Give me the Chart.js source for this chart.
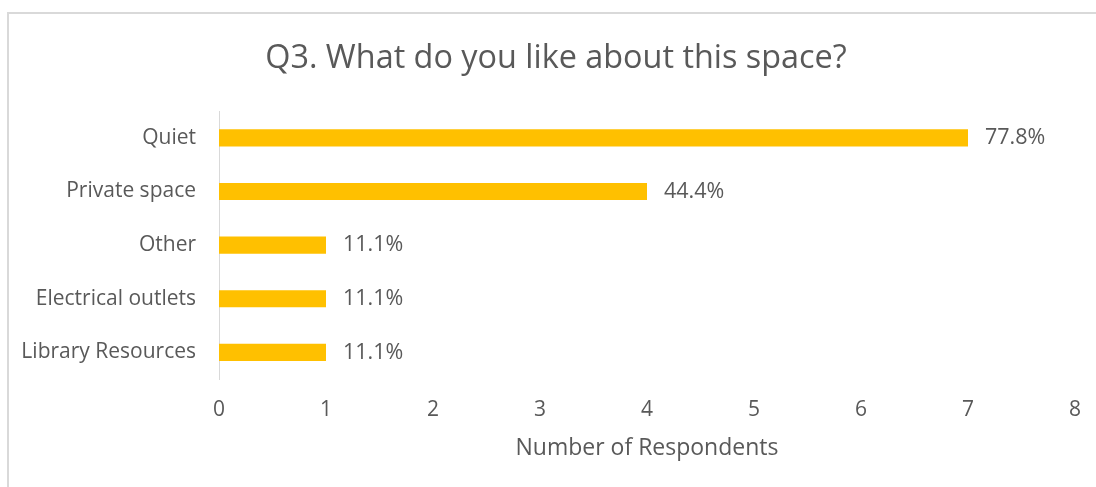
<!DOCTYPE html>
<html>
<head>
<meta charset="utf-8">
<title>Q3</title>
<script src="https://cdn.jsdelivr.net/npm/chart.js@4.4.1/dist/chart.umd.min.js"></script>
<style>
  html, body { margin: 0; padding: 0; background: #fff; overflow: hidden; }
  #frame {
    position: absolute; left: 7px; top: 12px; width: 1200px; height: 600px;
    border: 2px solid #d9d9d9; box-sizing: border-box;
  }
  #myChart { position: absolute; left: 0; top: 0; }
</style>
</head>
<body>
<div id="frame"></div>
<canvas id="myChart" width="1096" height="487"></canvas>
<script>
const categorias = ["Quiet", "Private space", "Other", "Electrical outlets", "Library Resources"];
const respuestas = [7, 4, 1, 1, 1];
const totalEncuestados = 9;
const ticksX = [0, 1, 2, 3, 4, 5, 6, 7, 8];
const titulo = "Q3. What do you like about this space?";

const gris = "#595959";
const fuente = "'Open Sans', 'DejaVu Sans', sans-serif";

// titulo centrado sobre todo el recuadro, no sobre el area del grafico
const tituloGrafica = {
  id: "tituloGrafica",
  afterDraw(chart) {
    const ctx = chart.ctx;
    ctx.save();
    ctx.fillStyle = gris;
    ctx.font = "32.4px " + fuente;
    ctx.textAlign = "center";
    ctx.textBaseline = "alphabetic";
    ctx.fillText(titulo, 556, 68);
    ctx.restore();
  }
};

// porcentaje a la derecha de cada barra
const etiquetasBarras = {
  id: "etiquetasBarras",
  afterDatasetsDraw(chart) {
    const ctx = chart.ctx;
    const meta = chart.getDatasetMeta(0);
    ctx.save();
    ctx.fillStyle = gris;
    ctx.font = "21.5px " + fuente;
    ctx.textAlign = "left";
    ctx.textBaseline = "middle";
    meta.data.forEach((bar, i) => {
      const pct = (respuestas[i] / totalEncuestados * 100).toFixed(1) + "%";
      ctx.fillText(pct, bar.x + 17, bar.y);
    });
    ctx.restore();
  }
};

new Chart(document.getElementById("myChart"), {
  type: "bar",
  data: {
    labels: categorias,
    datasets: [{
      data: respuestas,
      backgroundColor: "#ffc000",
      categoryPercentage: 1,
      barPercentage: 0.32,
    }],
  },
  plugins: [etiquetasBarras, tituloGrafica],
  options: {
    indexAxis: "y",
    responsive: false,
    animation: false,
    layout: { padding: { left: 0, right: 21, top: 111, bottom: 0 } },
    plugins: {
      legend: { display: false },
      tooltip: { enabled: false },
      title: { display: false },
    },
    scales: {
      x: {
        min: 0,
        max: 8,
        afterBuildTicks: (axis) => { axis.ticks = ticksX.map((v) => ({ value: v })); },
        // el margen lo marca layout.padding, no la ultima etiqueta
        afterFit: (axis) => { axis.paddingRight = 0; },
        grid: { display: false, drawTicks: false },
        border: { display: false },
        ticks: { color: gris, padding: 18, font: { family: fuente, size: 21 } },
        title: {
          display: true,
          text: "Number of Respondents",
          color: gris,
          font: { family: fuente, size: 23 },
          padding: { top: -6, bottom: 25 },
        },
      },
      y: {
        afterFit: (axis) => { axis.width = 219; },
        grid: { display: false, drawTicks: false },
        border: { display: true, color: "#d9d9d9", width: 1 },
        ticks: { color: gris, padding: 23, font: { family: fuente, size: 21 } },
      },
    },
  },
});
</script>
</body>
</html>
